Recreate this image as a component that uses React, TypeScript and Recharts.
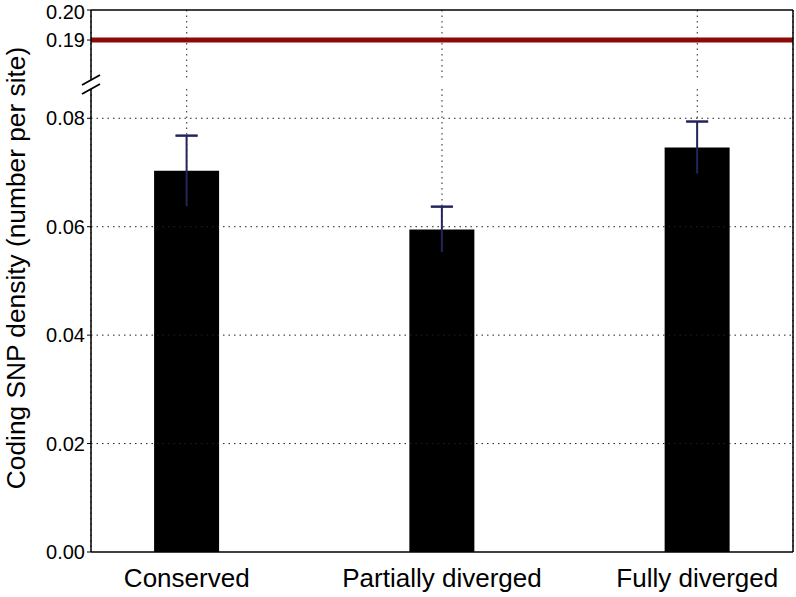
import React from 'react';
import {
  ComposedChart, Bar, ErrorBar, XAxis, YAxis, CartesianGrid, ReferenceLine,
} from 'recharts';

// values
const categories = ['Conserved', 'Partially diverged', 'Fully diverged'];
const positions = [0, 1, 2];
const densities = [0.0703, 0.0595, 0.0746];
const errors = [0.0065, 0.0042, 0.0048];
const referenceLevels = [0.19];
const lowerTicks = [0, 0.02, 0.04, 0.06, 0.08];
const upperTicks = [0.19, 0.2];

const FONT = '"Liberation Sans", Arial, Helvetica, sans-serif';
const X_DOMAIN: [number, number] = [-0.375, 2.375];
const LOWER_DOMAIN: [number, number] = [0, 0.0854];
const UPPER_DOMAIN: [number, number] = [0.1767, 0.2];

const W = 796;
const H = 597;
const PLOT_LEFT = 91;
const PLOT_RIGHT = 793;
const PLOT_TOP = 10;
const BREAK_TOP = 80; // bottom of upper panel
const BREAK_BOTTOM = 89; // top of lower panel
const PLOT_BOTTOM = 552;

// errLine: whisker without caps, errCap: zero-length span at the top so only the upper cap shows
const chartData = positions.map((x, i) => ({
  x,
  name: categories[i],
  value: densities[i],
  errLine: errors[i],
  errCap: [-errors[i], errors[i]],
}));

const gridStyle = {
  stroke: '#222',
  strokeDasharray: '1.5 4',
  strokeWidth: 1,
};

const yTick = { fill: '#000', fontSize: 20, fontFamily: FONT };
const xTick = { fill: '#000', fontSize: 26, fontFamily: FONT };
const fmt = (v: number) => v.toFixed(2);

export default function App() {
  return (
    <div style={{ position: 'absolute', left: 0, top: 0, width: W, height: H, background: '#fff' }}>
      {/* upper panel: 0.19 - 0.20 */}
      <div style={{ position: 'absolute', left: 0, top: 0 }}>
        <ComposedChart
          width={W}
          height={BREAK_TOP}
          data={chartData}
          margin={{ top: PLOT_TOP, right: W - PLOT_RIGHT, bottom: 0, left: 0 }}
        >
          <CartesianGrid {...gridStyle} horizontal={false} />
          <XAxis dataKey="x" type="number" domain={X_DOMAIN} ticks={positions} allowDataOverflow hide />
          <YAxis
            type="number"
            domain={UPPER_DOMAIN}
            ticks={upperTicks}
            allowDataOverflow
            width={PLOT_LEFT}
            tickFormatter={fmt}
            tick={yTick}
            tickSize={4}
            tickMargin={2}
            axisLine={{ stroke: '#000', strokeWidth: 1.5 }}
            tickLine={{ stroke: '#000' }}
          />
          {referenceLevels.map((lvl) => (
            <ReferenceLine key={lvl} y={lvl} stroke="#8b0a0a" strokeWidth={5} ifOverflow="hidden" />
          ))}
        </ComposedChart>
      </div>

      {/* lower panel: 0.00 - 0.08 */}
      <div style={{ position: 'absolute', left: 0, top: BREAK_BOTTOM }}>
        <ComposedChart
          width={W}
          height={H - BREAK_BOTTOM}
          data={chartData}
          margin={{ top: 0, right: W - PLOT_RIGHT, bottom: 0, left: 0 }}
        >
          <CartesianGrid {...gridStyle} horizontal={false} />
          <XAxis
            dataKey="x"
            type="number"
            domain={X_DOMAIN}
            ticks={positions}
            allowDataOverflow
            height={H - PLOT_BOTTOM}
            tickFormatter={(i: number) => categories[i] ?? ''}
            tick={xTick}
            tickLine={false}
            tickSize={0}
            tickMargin={17}
            axisLine={{ stroke: '#000', strokeWidth: 1.5 }}
          />
          <YAxis
            type="number"
            domain={LOWER_DOMAIN}
            ticks={lowerTicks}
            allowDataOverflow
            width={PLOT_LEFT}
            tickFormatter={fmt}
            tick={yTick}
            tickSize={4}
            tickMargin={2}
            axisLine={{ stroke: '#000', strokeWidth: 1.5 }}
            tickLine={{ stroke: '#000' }}
          />
          {lowerTicks.filter((t) => t > 0).map((t) => (
            <ReferenceLine key={t} y={t} {...gridStyle} />
          ))}
          <Bar dataKey="value" fill="#000" barSize={65} isAnimationActive={false}>
            <ErrorBar dataKey="errLine" direction="y" width={0} stroke="#24245c" strokeWidth={2} isAnimationActive={false} />
            <ErrorBar dataKey="errCap" direction="y" width={11} stroke="#24245c" strokeWidth={2} isAnimationActive={false} />
          </Bar>
        </ComposedChart>
      </div>

      {/* frame, axis break marks and y label */}
      <svg width={W} height={H} style={{ position: 'absolute', left: 0, top: 0, pointerEvents: 'none' }}>
        <line x1={PLOT_LEFT} y1={PLOT_TOP} x2={PLOT_RIGHT} y2={PLOT_TOP} stroke="#000" strokeWidth={1.5} />
        <line x1={PLOT_RIGHT} y1={PLOT_TOP} x2={PLOT_RIGHT} y2={PLOT_BOTTOM} stroke="#000" strokeWidth={1.5} />
        <line x1={82} y1={85} x2={100} y2={75} stroke="#000" strokeWidth={1.8} />
        <line x1={82} y1={94} x2={100} y2={84} stroke="#000" strokeWidth={1.8} />
        <text
          x={0}
          y={0}
          transform="translate(25, 268) rotate(-90)"
          textAnchor="middle"
          fontFamily={FONT}
          fontSize={26.3}
          fill="#000"
        >
          Coding SNP density (number per site)
        </text>
      </svg>
    </div>
  );
}
